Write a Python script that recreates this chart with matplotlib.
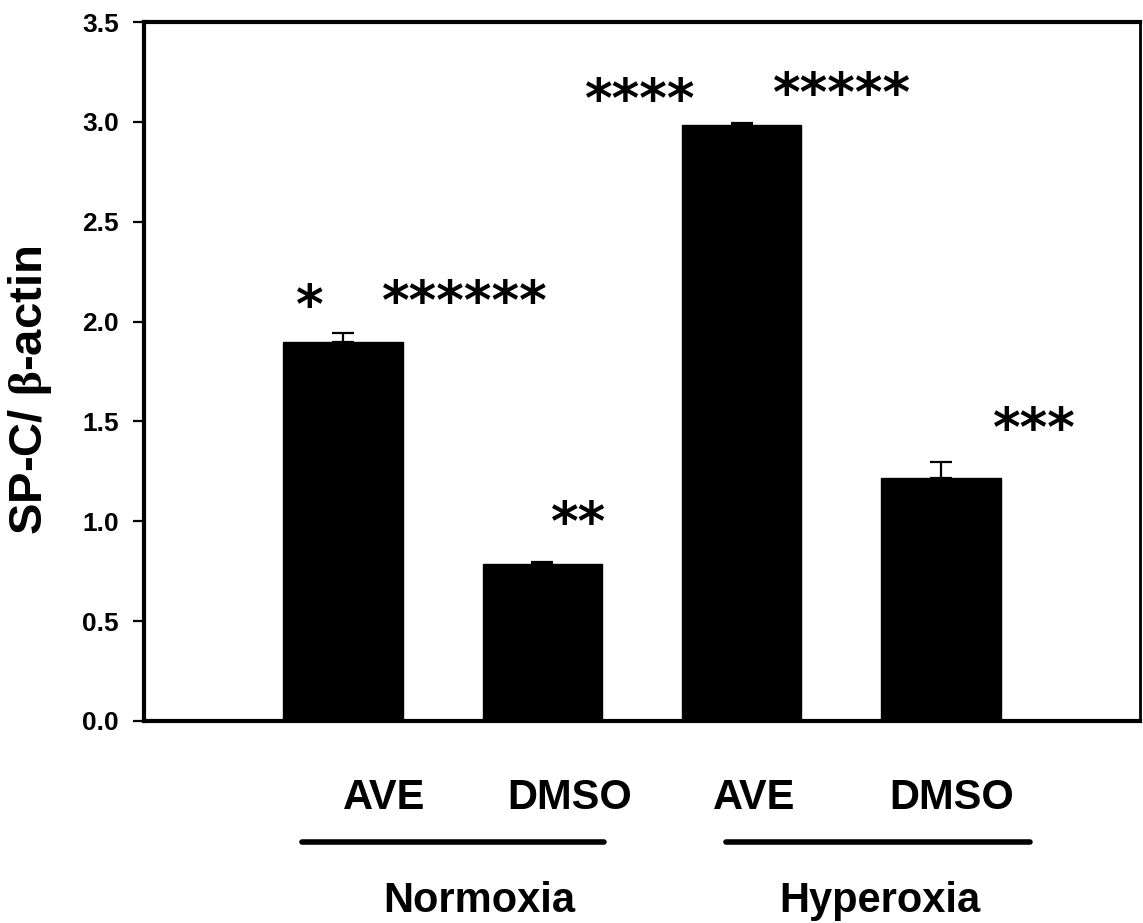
import matplotlib
matplotlib.use("Agg")
import matplotlib.pyplot as plt
from matplotlib.lines import Line2D
import matplotlib.transforms as mtransforms

# ---- data ----
treatments = ["AVE", "DMSO", "AVE", "DMSO"]
groups = ["Normoxia", "Hyperoxia"]
values = [1.90, 0.785, 2.985, 1.215]
errors = [0.045, 0.012, 0.010, 0.080]
star_labels = ["*", "******", "**", "****", "*****", "***"]
yticks = [0.0, 0.5, 1.0, 1.5, 2.0, 2.5, 3.0, 3.5]

plt.rcParams['font.family'] = ['Liberation Sans', 'DejaVu Sans']
plt.rcParams['font.weight'] = 'bold'
plt.rcParams['mathtext.fontset'] = 'custom'
plt.rcParams['mathtext.rm'] = 'Liberation Serif'
plt.rcParams['mathtext.it'] = 'Liberation Serif:italic'

W, H = 1143, 923
fig = plt.figure(figsize=(W / 100, H / 100), dpi=100)
ax = fig.add_axes([144 / W, 1 - 721 / H, (1140 - 144) / W, (721 - 22) / H])

x = list(range(len(values)))
ax.bar(x, values, width=0.6, color='black', edgecolor='black', zorder=2)
ax.errorbar(x, values, yerr=[[0] * len(errors), errors], fmt='none',
            ecolor='black', elinewidth=1.6, capsize=8, capthick=1.6, zorder=1)

ax.set_xlim(-1.0, 4.0)
ax.set_ylim(0, 3.5)
ax.set_yticks(yticks)
ax.set_yticklabels([f"{t:.1f}" for t in yticks], fontsize=19, fontweight='bold')
ax.set_xticks([])
ax.tick_params(axis='y', direction='out', length=8, width=1.6, pad=10)

for side in ['left', 'bottom', 'top']:
    ax.spines[side].set_linewidth(3)
ax.spines['right'].set_linewidth(2)

# significance stars (annotation positions)
star_pos = [(-0.17, 2.07), (0.61, 2.09), (1.18, 0.98), (1.49, 3.10), (2.505, 3.13), (3.47, 1.45)]
for lab, (sx, sy) in zip(star_labels, star_pos):
    ax.text(sx, sy, lab, ha='center', va='center', fontsize=38,
            family='DejaVu Sans', fontweight='bold', style='oblique', zorder=3)

# category labels below axis
trans = mtransforms.blended_transform_factory(ax.transData, fig.transFigure)
label_x = [0.205, 1.135, 2.065, 3.055]
for lab, lx in zip(treatments, label_x):
    ax.text(lx, 1 - 809 / H, lab, transform=trans, ha='center', va='baseline',
            fontsize=30, fontweight='bold', clip_on=False)

line_spans = [(-0.205, 1.31), (1.92, 3.45)]
for (x0, x1) in line_spans:
    ln = Line2D([x0, x1], [1 - 842 / H, 1 - 842 / H], transform=trans, color='black',
                linewidth=4, solid_capstyle='round', clip_on=False)
    ax.add_line(ln)

group_x = [0.685, 2.695]
for lab, gx in zip(groups, group_x):
    ax.text(gx, 1 - 912 / H, lab, transform=trans, ha='center', va='baseline',
            fontsize=30, fontweight='bold', clip_on=False)

fig.text(30 / W, 1 - 390 / H, r'SP-C/ $\mathrm{\beta}$-actin', rotation=90,
         ha='center', va='center', fontsize=34, fontweight='bold')

fig.savefig("out.png", dpi=100)
